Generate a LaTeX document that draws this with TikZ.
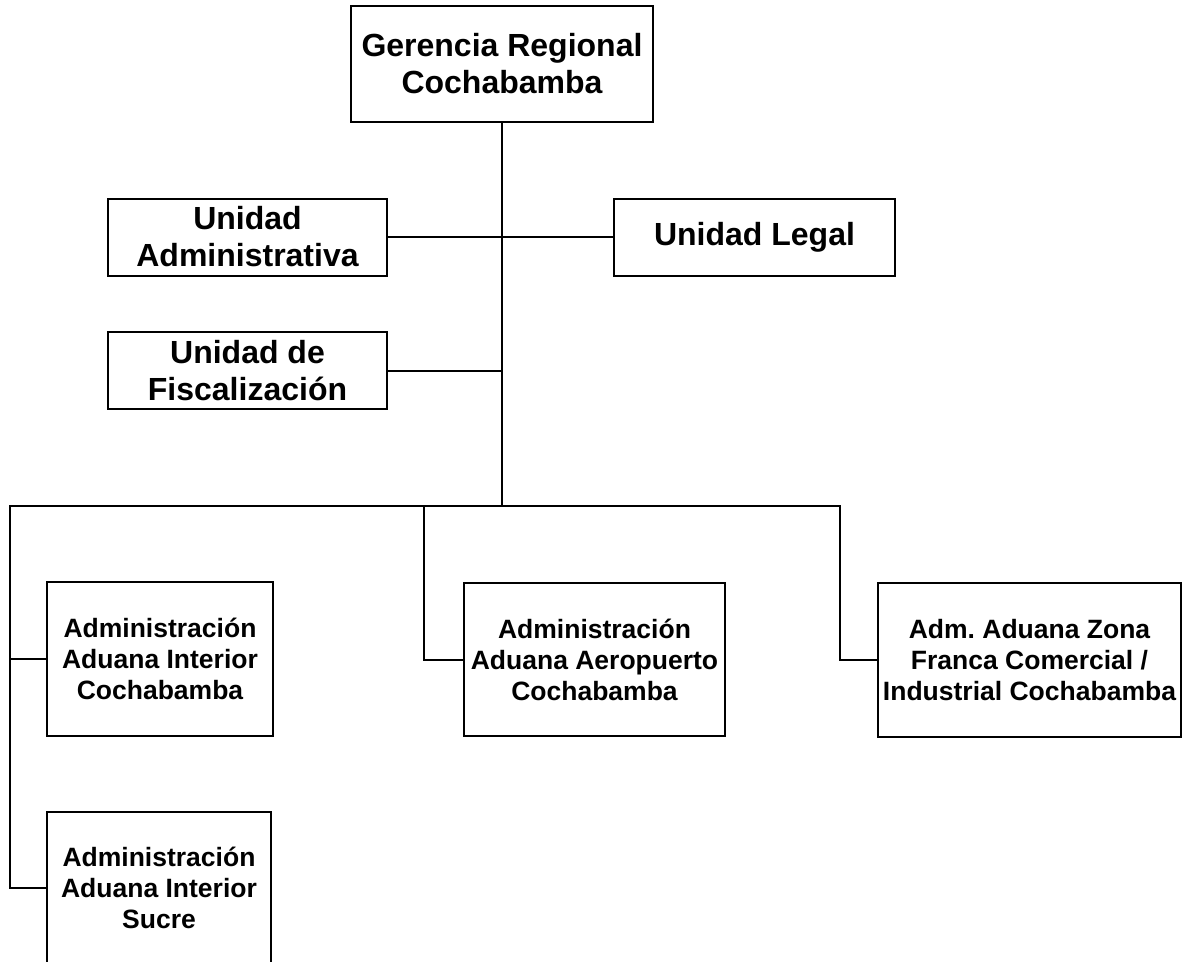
\documentclass[tikz,border=0pt]{standalone}
\usepackage{fontspec}
\setmainfont{Liberation Sans}
\frenchspacing
\begin{document}
\begin{tikzpicture}[x=1pt,y=-1pt,
  line width=2pt,
  unit/.style={draw=black, line width=2pt, align=center, inner sep=0pt,
    font=\fontsize{32}{37}\selectfont\bfseries},
  office/.style={draw=black, line width=2pt, align=center, inner sep=0pt,
    font=\fontsize{26.5}{31}\selectfont\bfseries},
  link/.style={draw=black, line width=2pt}]
\clip (0,0) rectangle (1183,961);
\fill[white] (0,0) rectangle (1183,961);

% top management
\node[unit, minimum width=302pt, minimum height=116pt] (top) at (502,64)
  {Gerencia Regional\\Cochabamba};

% staff units
\node[unit, minimum width=279pt, minimum height=77pt] (adm) at (247.5,237)
  {Unidad\\Administrativa};
\node[unit, minimum width=281pt, minimum height=77pt] (legal) at (754.5,237)
  {Unidad Legal};
\node[unit, minimum width=279pt, minimum height=77pt] (fis) at (247.5,370.5)
  {Unidad de\\Fiscalización};

% customs administrations
\node[office, minimum width=226pt, minimum height=154pt] (aic) at (160,659)
  {Administración\\Aduana Interior\\Cochabamba};
\node[office, minimum width=224pt, minimum height=152pt] (sucre) at (159,888)
  {Administración\\Aduana Interior\\Sucre};
\node[office, minimum width=261pt, minimum height=153pt] (aero) at (594.5,659.5)
  {Administración\\Aduana Aeropuerto\\Cochabamba};
\node[office, minimum width=303pt, minimum height=154pt] (zona) at (1029.5,660)
  {Adm. Aduana Zona\\Franca Comercial /\\Industrial Cochabamba};

% bus coordinates
\coordinate (busT) at (502,506);
\coordinate (busL) at (10,506);
\coordinate (busM) at (424,506);
\coordinate (busR) at (840,506);

% connectors
\draw[link] (top.south) -- (busT);
\draw[link] (adm.east) -- (legal.west);
\draw[link] (fis.east) -- (fis.east -| top.south);
\draw[link, line cap=rect] (busL) -- (busR);
\draw[link] (busL) |- (sucre.west);
\draw[link] (aic.west) -- (aic.west -| busL);
\draw[link] (busM) |- (aero.west);
\draw[link] (busR) |- (zona.west);
\end{tikzpicture}
\end{document}
